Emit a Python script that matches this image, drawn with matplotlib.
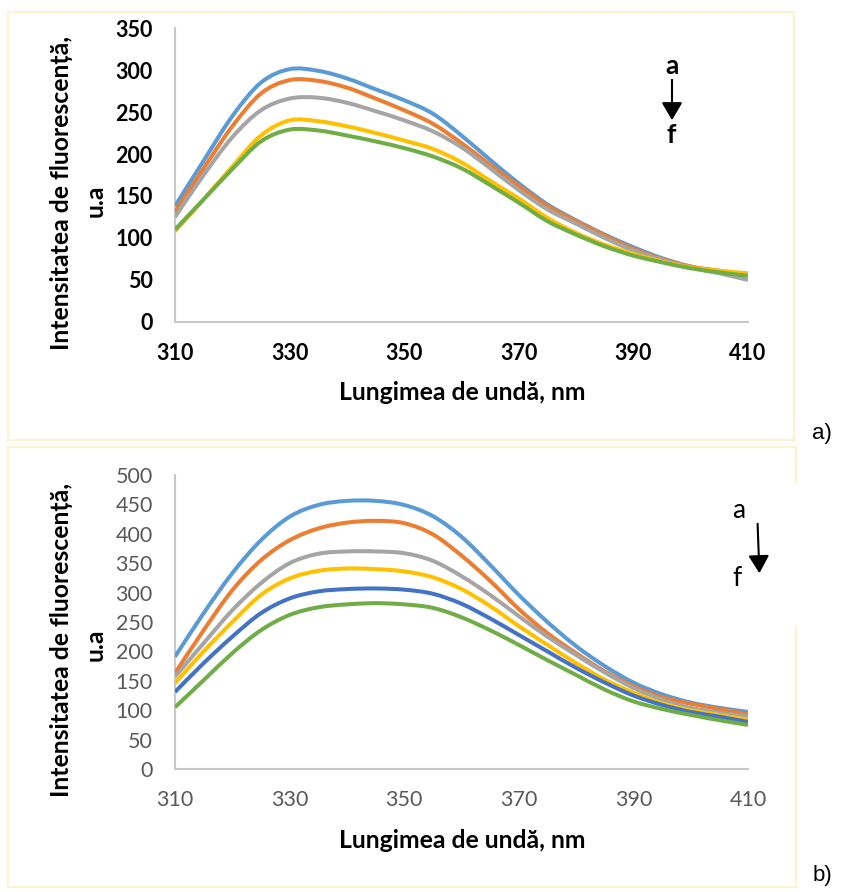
import numpy as np
import matplotlib
matplotlib.use("Agg")
import matplotlib.pyplot as plt
from matplotlib.path import Path
from matplotlib.patches import PathPatch, FancyArrowPatch
from matplotlib.lines import Line2D

plt.rcParams['font.family'] = ['Lato', 'DejaVu Sans']

# ---------------- data ----------------
wavelength = [310, 315, 320, 325, 330, 335, 340, 345, 350, 355, 360,
              365, 370, 375, 380, 385, 390, 395, 400, 405, 410]

# panel a)
a_series_a = [138, 192, 245, 285, 301, 299, 290, 277, 264, 248, 222, 193, 165, 140, 121, 104, 89, 76, 66, 60, 56]
a_series_b = [131, 183, 233, 272, 288, 287, 279, 266, 252, 236, 213, 187, 162, 138, 120, 103, 87, 75, 66, 61, 56]
a_series_c = [125, 175, 220, 252, 266, 267, 261, 251, 240, 227, 208, 183, 157, 134, 117, 100, 85, 74, 65, 58, 50]
a_series_d = [108, 146, 185, 222, 240, 239, 233, 225, 216, 206, 190, 168, 147, 124, 106, 92, 81, 72, 65, 61, 58]
a_series_f = [110, 146, 182, 215, 229, 228, 222, 215, 207, 197, 183, 163, 142, 120, 104, 90, 79, 71, 64, 59, 55]

# panel b)
b_series_a = [191, 265, 333, 389, 429, 449, 456, 456, 449, 430, 395, 347, 296, 250, 209, 175, 147, 127, 113, 104, 97]
b_series_b = [163, 236, 304, 355, 389, 409, 419, 422, 418, 399, 363, 320, 272, 231, 197, 166, 141, 122, 111, 102, 93]
b_series_c = [157, 214, 270, 316, 350, 366, 370, 370, 367, 354, 328, 296, 260, 225, 194, 164, 138, 118, 104, 96, 89]
b_series_d = [146, 200, 250, 296, 324, 337, 341, 340, 336, 326, 306, 277, 243, 211, 180, 152, 130, 112, 100, 92, 84]
b_series_e = [131, 180, 225, 265, 290, 302, 306, 307, 305, 298, 281, 256, 228, 200, 172, 147, 125, 109, 97, 89, 80]
b_series_f = [105, 151, 197, 236, 262, 275, 280, 282, 280, 274, 258, 236, 211, 185, 160, 135, 115, 102, 92, 83, 75]

x_ticks = [310, 330, 350, 370, 390, 410]
a_y_ticks = [0, 50, 100, 150, 200, 250, 300, 350]
b_y_ticks = [0, 50, 100, 150, 200, 250, 300, 350, 400, 450, 500]

colors = {
    'a': '#5B9BD5', 'b': '#ED7D31', 'c': '#A5A5A5',
    'd': '#FFC000', 'e': '#4472C4', 'f': '#70AD47',
}

panel_a = [('a', a_series_a), ('b', a_series_b), ('c', a_series_c),
           ('d', a_series_d), ('f', a_series_f)]
panel_b = [('a', b_series_a), ('b', b_series_b), ('c', b_series_c),
           ('d', b_series_d), ('e', b_series_e), ('f', b_series_f)]

W, H = 842, 892


def P(x, y):
    return (x / W, 1 - y / H)


def smooth_path(xs, ys):
    pts = np.column_stack([xs, ys]).astype(float)
    verts = [pts[0]]
    codes = [Path.MOVETO]
    n = len(pts)
    for i in range(n - 1):
        p0 = pts[i - 1] if i > 0 else pts[i]
        p1 = pts[i]
        p2 = pts[i + 1]
        p3 = pts[i + 2] if i + 2 < n else pts[i + 1]
        c1 = p1 + (p2 - p0) / 6.0
        c2 = p2 - (p3 - p1) / 6.0
        verts += [c1, c2, p2]
        codes += [Path.CURVE4] * 3
    return Path(verts, codes)


fig = plt.figure(figsize=(W / 100, H / 100), dpi=100)


def make_axes(top_px, series, yticks, ymax, bold_ticks):
    left, right, bottom = 175, 748, top_px + 294
    ax = fig.add_axes([left / W, 1 - bottom / H, (right - left) / W, 294 / H])
    for key, vals in series:
        ax.add_patch(PathPatch(smooth_path(wavelength, vals), fill=False,
                               edgecolor=colors[key], lw=2.9, zorder=3))
    ax.set_xlim(310, 410)
    ax.set_ylim(0, ymax)
    ax.set_xticks(x_ticks)
    ax.set_yticks(yticks)
    for s in ['top', 'right']:
        ax.spines[s].set_visible(False)
    for s in ['left', 'bottom']:
        ax.spines[s].set_color('#C9C9C9')
        ax.spines[s].set_linewidth(1.5)
    ax.tick_params(length=0)
    ax.tick_params(axis='x', pad=15)
    ax.tick_params(axis='y', pad=16)
    tcol = 'black' if bold_ticks else '#595959'
    tw = 'bold' if bold_ticks else 'normal'
    for lab in ax.get_xticklabels() + ax.get_yticklabels():
        lab.set_fontsize(15.5)
        lab.set_fontweight(tw)
        lab.set_color(tcol)
    return ax


ax1 = make_axes(28, panel_a, a_y_ticks, 350, True)
ax2 = make_axes(475, panel_b, b_y_ticks, 500, False)

# axis titles
for (l1y, l2y, xly) in [(193, 201, 393), (640, 645, 841)]:
    fig.text(*P(62, l1y), 'Intensitatea de fluorescență,', rotation=90,
             ha='center', va='center', fontsize=17.8, fontweight='bold')
    fig.text(*P(95, l2y), 'u.a', rotation=90, ha='center', va='center',
             fontsize=17.8, fontweight='bold')
    fig.text(*P(462, xly), 'Lungimea de undă, nm', ha='center', va='center',
             fontsize=17.8, fontweight='bold')

# panel letters
fig.text(*P(822, 433), 'a)', ha='center', va='center', fontsize=16,
         family=['Liberation Sans', 'DejaVu Sans'])
fig.text(*P(822, 876), 'b)', ha='center', va='center', fontsize=16,
         family=['Liberation Sans', 'DejaVu Sans'])

# a -> f annotations
fig.text(*P(672, 66), 'a', ha='center', va='center', fontsize=19, fontweight='bold')
fig.text(*P(671, 135), 'f', ha='center', va='center', fontsize=19, fontweight='bold')
fig.add_artist(FancyArrowPatch(P(672, 77), P(672, 123), transform=fig.transFigure,
                               arrowstyle='-|>,head_length=0.6,head_width=0.35',
                               mutation_scale=18, color='black', lw=1.5))

fig.text(*P(739, 511), 'a', ha='center', va='center', fontsize=19)
fig.text(*P(737, 578), 'f', ha='center', va='center', fontsize=19)
fig.add_artist(FancyArrowPatch(P(757.5, 521), P(759.5, 576), transform=fig.transFigure,
                               arrowstyle='-|>,head_length=0.6,head_width=0.35',
                               mutation_scale=18, color='black', lw=1.5))

# cream frames
fc = '#FFF0C6'


def seg(x0, y0, x1, y1):
    fig.add_artist(Line2D([x0 / W, x1 / W], [1 - y0 / H, 1 - y1 / H],
                          transform=fig.transFigure, color=fc, lw=1.2))


# frame a
seg(8, 12, 794, 12)
seg(8, 440, 794, 440)
seg(8, 12, 8, 440)
seg(794, 12, 794, 440)
# frame b (right edge interrupted)
seg(8, 447, 796, 447)
seg(8, 887, 796, 887)
seg(8, 447, 8, 887)
seg(796, 447, 796, 482)
seg(796, 627, 796, 887)

fig.savefig('out.png', dpi=100)
